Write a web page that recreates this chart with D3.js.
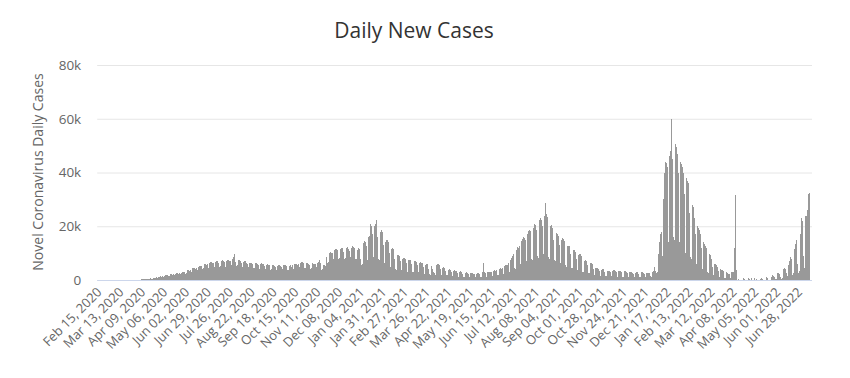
<!DOCTYPE html>
<html>
<head>
<meta charset="utf-8">
<script src="https://cdn.jsdelivr.net/npm/d3@7"></script>
<style>
    body { margin: 0; background: #fff; }
    text { font-family: "Open Sans", sans-serif; }
</style>
</head>
<body>
<svg id="chart"></svg>
<script>
// daily new cases in thousands, one row per week (Sat..Fri), first day Feb 15, 2020
const cases2020 = [
    0, 0, 0, 0, 0, 0, 0,
    0, 0, 0, 0, 0, 0, 0,
    0, 0, 0, 0, 0, 0, 0,
    0, 0, 0, 0, 0, 0, 0,
    0, 0, 0, 0, 0, 0.05, 0.05,
    0.05, 0.05, 0.05, 0.1, 0.1, 0.1, 0.1,
    0.1, 0.1, 0.1, 0.1, 0.1, 0.15, 0.15,
    0.15, 0.1, 0.15, 0.2, 0.2, 0.2, 0.2,
    0.2, 0.15, 0.2, 0.25, 0.3, 0.3, 0.25,
    0.6, 0.5, 0.5, 0.7, 0.7, 0.8, 0.7,
    1.0, 0.8, 0.9, 1.2, 1.3, 1.4, 1.2,
    1.4, 1.1, 1.2, 1.6, 1.7, 1.8, 1.6,
    1.8, 1.4, 1.5, 2.0, 2.1, 2.2, 2.0,
    2.2, 1.7, 1.8, 2.4, 2.5, 2.6, 2.4,
    2.5, 2.0, 2.1, 2.7, 2.9, 3.0, 2.8,
    3.0, 2.4, 2.6, 3.4, 3.6, 3.7, 3.4,
    3.9, 3.0, 3.2, 4.3, 4.5, 4.6, 4.2,
    4.6, 3.5, 3.8, 5.0, 5.2, 5.3, 4.9,
    5.3, 4.1, 4.4, 5.8, 6.0, 6.1, 5.7,
    5.8, 4.4, 4.7, 6.3, 6.6, 6.7, 6.2,
    6.2, 4.7, 5.0, 6.8, 7.0, 7.1, 6.7,
    6.4, 4.8, 5.2, 7.0, 7.3, 7.4, 6.9,
    6.6, 5.0, 5.3, 7.2, 7.5, 7.6, 7.1,
    6.9, 5.2, 5.6, 8.0, 8.5, 9.6, 8.2,
    6.7, 5.1, 5.4, 7.3, 7.6, 7.5, 7.0,
    6.3, 4.8, 5.0, 6.8, 7.0, 7.0, 6.5,
    5.9, 4.5, 4.7, 6.3, 6.5, 6.5, 6.1,
    5.7, 4.4, 4.6, 6.2, 6.4, 6.4, 6.0,
    5.5, 4.2, 4.4, 6.0, 6.2, 6.1, 5.8,
    5.1, 3.9, 4.1, 5.6, 5.8, 5.7, 5.4,
    4.9, 3.8, 4.0, 5.4, 5.6, 5.5, 5.2,
    4.9, 3.7, 3.9, 5.3, 5.5, 5.4, 5.1,
    5.0, 3.8, 4.0, 5.4, 5.6, 5.5, 5.2,
    4.8, 3.6, 3.8, 5.2, 5.4, 5.3, 5.0,
    5.4, 4.1, 4.3, 5.9, 6.1, 6.0, 5.7,
    6.0, 4.5, 4.8, 6.5, 6.8, 6.7, 6.3,
    5.7, 4.3, 4.6, 6.2, 6.4, 6.3, 6.0,
    5.5, 4.2, 4.4, 6.0, 6.2, 6.1, 5.8,
    5.9, 4.4, 4.7, 6.4, 6.6, 7.4, 6.2,
    5.0, 3.8, 4.0, 5.4, 5.6, 5.5, 5.3,
    8.5, 6.4, 6.8, 9.5, 10.2, 10.5, 10.0,
    10.0, 7.5, 8.0, 11.0, 11.6, 11.7, 11.3,
    10.2, 7.7, 8.2, 11.4, 11.9, 12.0, 11.6,
    10.3, 7.8, 8.3, 11.5, 12.0, 12.1, 11.7,
    10.7, 8.0, 8.6, 12.0, 12.5, 12.4, 11.9,
    10.4, 7.8, 8.0, 11.3, 11.8, 11.6
];

const cases2021 = [
    9.0,
    8.0, 5.5, 5.8, 13.0, 13.8, 14.5, 14.0,
    12.5, 7.5, 7.0, 16.0, 16.5, 21.0, 20.0,
    17.0, 9.0, 8.5, 20.0, 21.0, 21.8, 22.3,
    16.0, 8.0, 7.5, 17.5, 18.0, 18.5, 17.9,
    13.0, 6.5, 6.0, 14.0, 15.0, 14.8, 14.0,
    10.0, 5.0, 4.8, 11.5, 11.8, 11.6, 11.0,
    8.0, 4.2, 3.8, 9.2, 9.4, 9.3, 9.0,
    7.0, 3.6, 3.3, 8.0, 8.3, 8.2, 7.9,
    6.4, 3.2, 3.0, 7.3, 7.6, 7.5, 7.2,
    6.0, 3.0, 2.8, 6.8, 7.2, 7.1, 6.8,
    5.5, 2.8, 2.6, 6.3, 6.6, 6.5, 6.2,
    5.0, 2.6, 2.4, 5.7, 6.0, 5.9, 5.6,
    4.2, 2.2, 2.0, 5.0, 5.3, 4.0, 3.0,
    2.5, 2.0, 2.6, 5.5, 5.9, 5.8, 5.4,
    4.0, 2.0, 1.9, 4.5, 4.7, 4.6, 4.3,
    3.4, 1.8, 1.7, 3.9, 4.1, 4.0, 3.8,
    3.0, 1.6, 1.5, 3.4, 3.6, 3.5, 3.3,
    2.7, 1.4, 1.3, 3.0, 3.2, 3.1, 2.9,
    2.4, 1.3, 1.2, 2.7, 2.9, 2.8, 2.6,
    2.2, 1.2, 1.1, 2.5, 2.7, 2.6, 2.4,
    2.1, 1.1, 1.0, 2.4, 2.6, 2.5, 2.3,
    2.4, 1.2, 1.1, 2.8, 6.5, 3.0, 2.8,
    2.5, 1.3, 1.2, 2.9, 3.1, 3.0, 2.8,
    2.9, 1.5, 1.4, 3.4, 3.6, 3.5, 3.3,
    3.6, 1.8, 1.7, 4.2, 4.4, 4.4, 4.2,
    4.6, 2.3, 2.1, 5.3, 5.6, 5.7, 5.5,
    6.5, 3.0, 2.8, 7.5, 8.2, 8.8, 8.6,
    9.5, 4.3, 4.0, 11.0, 11.8, 12.2, 12.0,
    12.5, 5.8, 5.4, 14.5, 15.2, 16.0, 15.8,
    15.0, 7.0, 6.6, 17.2, 18.2, 18.7, 18.3,
    17.0, 8.0, 7.5, 19.5, 20.5, 21.0, 20.6,
    18.5, 8.8, 8.3, 21.5, 22.5, 22.9, 22.2,
    20.0, 9.5, 9.0, 24.0, 28.8, 24.5, 23.5,
    17.5, 8.5, 8.0, 20.0, 20.6, 20.5, 19.5,
    15.0, 7.5, 7.0, 17.0, 17.5, 17.3, 16.5,
    13.0, 6.5, 6.0, 15.0, 15.7, 15.4, 14.5,
    11.0, 5.5, 5.0, 12.5, 12.8, 12.7, 12.0,
    9.5, 4.6, 4.3, 10.8, 11.2, 11.0, 10.3,
    8.0, 3.9, 3.6, 9.2, 9.7, 9.5, 8.8,
    6.3, 3.1, 2.9, 7.0, 7.3, 7.2, 6.7,
    5.6, 2.7, 2.5, 6.2, 6.5, 6.4, 5.9,
    4.0, 2.0, 1.8, 4.4, 4.6, 4.5, 4.2,
    3.5, 1.7, 1.6, 3.9, 4.1, 4.0, 3.7,
    3.0, 1.5, 1.4, 2.2, 3.4, 3.5, 3.3,
    3.1, 1.5, 1.4, 3.5, 3.6, 3.6, 3.4,
    3.0, 1.4, 1.3, 3.3, 3.4, 3.4, 3.2,
    2.8, 1.3, 1.2, 3.1, 3.2, 3.2, 3.0,
    2.5, 1.2, 1.1, 2.8, 2.9, 2.9, 2.7,
    2.4, 1.1, 1.0, 2.7, 2.8, 2.8, 2.6,
    2.4, 1.1, 1.0, 2.7, 2.8, 2.8, 2.6,
    2.3, 1.1, 1.0, 2.6, 2.7, 2.7, 2.5,
    1.5, 1.0, 1.3, 3.0, 3.5, 4.3, 4.7
];

const cases2022 = [
    3.5, 2.5, 3.0, 9.7, 11.0, 14.0, 17.0,
    18.0, 9.0, 10.0, 30.0, 40.0, 44.0, 43.5,
    42.0, 15.0, 14.0, 46.0, 48.0, 49.0, 60.0,
    45.0, 16.0, 15.0, 50.5, 49.5, 48.0, 47.0,
    40.0, 14.0, 13.0, 44.0, 43.0, 42.0, 40.0,
    32.0, 11.0, 10.0, 38.0, 37.0, 36.0, 34.0,
    25.0, 8.5, 8.0, 28.0, 27.0, 25.0, 23.0,
    17.0, 6.0, 5.5, 20.0, 19.5, 18.5, 17.0,
    12.0, 4.2, 4.0, 14.0, 13.5, 12.5, 12.0,
    8.0, 2.8, 2.6, 9.5, 9.2, 8.5, 8.0,
    5.0, 1.8, 1.7, 6.0, 5.8, 5.4, 5.0,
    3.5, 1.2, 1.1, 4.0, 3.9, 3.6, 3.4,
    2.4, 0.9, 0.8, 2.8, 2.7, 2.5, 2.4,
    2.2, 0.8, 0.8, 3.0, 2.9, 2.8, 11.9,
    31.6, 3.7, 0, 0, 0.4, 0, 0,
    0, 0, 0, 0.6, 0, 0.5, 0,
    0, 0, 0, 0.8, 0.3, 0, 0.6,
    0, 0, 0, 0.7, 0, 0.4, 0,
    0, 0, 0, 0.5, 0.9, 0, 0.4,
    0, 0, 0, 1.0, 0, 0.6, 0,
    0, 0, 0, 1.2, 1.9, 1.5, 1.0,
    0.8, 0.3, 0.5, 2.7, 2.6, 2.5, 2.2,
    1.0, 0.5, 0.8, 3.5, 4.0, 4.5, 4.2,
    2.5, 1.0, 1.5, 5.6, 7.0, 8.7, 8.0,
    4.5, 1.8, 2.5, 11.5, 13.5, 15.0, 14.0,
    6.0, 2.5, 3.5, 17.0, 16.9, 23.0, 22.0,
    9.0, 3.5, 4.5, 23.7, 24.0, 26.0, 31.0,
    32.0, 32.5
];

// one label every 27 days from the first day
const tickLabels = [
    "Feb 15, 2020", "Mar 13, 2020", "Apr 09, 2020", "May 06, 2020", "Jun 02, 2020",
    "Jun 29, 2020", "Jul 26, 2020", "Aug 22, 2020", "Sep 18, 2020", "Oct 15, 2020",
    "Nov 11, 2020", "Dec 08, 2020", "Jan 04, 2021", "Jan 31, 2021", "Feb 27, 2021",
    "Mar 26, 2021", "Apr 22, 2021", "May 19, 2021", "Jun 15, 2021", "Jul 12, 2021",
    "Aug 08, 2021", "Sep 04, 2021", "Oct 01, 2021", "Oct 28, 2021", "Nov 24, 2021",
    "Dec 21, 2021", "Jan 17, 2022", "Feb 13, 2022", "Mar 12, 2022", "Apr 08, 2022",
    "May 05, 2022", "Jun 01, 2022", "Jun 28, 2022"
];
const tickStep = 27;
const yTicks = [0, 20, 40, 60, 80];

const width = 850;
const height = 378;
const plot = { left: 99.2, right: 810.2, top: 65, bottom: 280 };

const daily = cases2020.concat(cases2021, cases2022);

const svg = d3.select('#chart').attr('width', width).attr('height', height);

const xScale = d3.scaleBand()
    .domain(d3.range(daily.length))
    .range([plot.left, plot.right])
    .padding(0);

const yScale = d3.scaleLinear()
    .domain([0, 80])
    .range([plot.bottom, plot.top]);

// title
svg.append('text')
    .attr('x', 414)
    .attr('y', 38)
    .attr('text-anchor', 'middle')
    .attr('font-size', '21px')
    .attr('fill', '#333333')
    .text('Daily New Cases');

// grid + y labels
const yAxis = svg.append('g')
    .attr('transform', `translate(${plot.left - 2}, 0)`)
    .call(d3.axisLeft(yScale).tickValues(yTicks)
        .tickSize(-(812 - plot.left + 2))
        .tickPadding(16)
        .tickFormat(d => d === 0 ? '0' : `${d}k`));
yAxis.select('.domain').remove();
yAxis.selectAll('line').attr('stroke', '#e6e6e6');
yAxis.selectAll('text')
    .attr('font-size', '13.5px')
    .attr('fill', '#666666')
    .style('font-family', '"Open Sans", sans-serif');

svg.append('text')
    .attr('transform', `translate(43, 172) rotate(-90)`)
    .attr('text-anchor', 'middle')
    .attr('font-size', '14px')
    .attr('fill', '#666666')
    .text('Novel Coronavirus Daily Cases');

// bars, at least one pixel wide like the original
svg.append('g')
    .attr('fill', '#999999')
    .attr('shape-rendering', 'crispEdges')
    .selectAll('rect')
    .data(daily)
    .enter()
    .append('rect')
    .attr('x', (d, i) => Math.round(xScale(i) + xScale.bandwidth() / 2 - 0.5))
    .attr('y', d => yScale(d))
    .attr('width', 1)
    .attr('height', d => yScale(0) - yScale(d));

// x axis line
svg.append('line')
    .attr('x1', plot.left - 2)
    .attr('x2', 812)
    .attr('y1', yScale(0) + 0.5)
    .attr('y2', yScale(0) + 0.5)
    .attr('stroke', '#ccd6eb');

// rotated date labels
const tickIdx = tickLabels.map((t, k) => k * tickStep);
svg.append('g')
    .selectAll('text')
    .data(tickIdx)
    .enter()
    .append('text')
    .attr('transform', i => `translate(${xScale(i) + xScale.bandwidth() / 2 + 3}, 293) rotate(-45)`)
    .attr('text-anchor', 'end')
    .attr('font-size', '13px')
    .attr('fill', '#666666')
    .text((i, k) => tickLabels[k]);
</script>
</body>
</html>
